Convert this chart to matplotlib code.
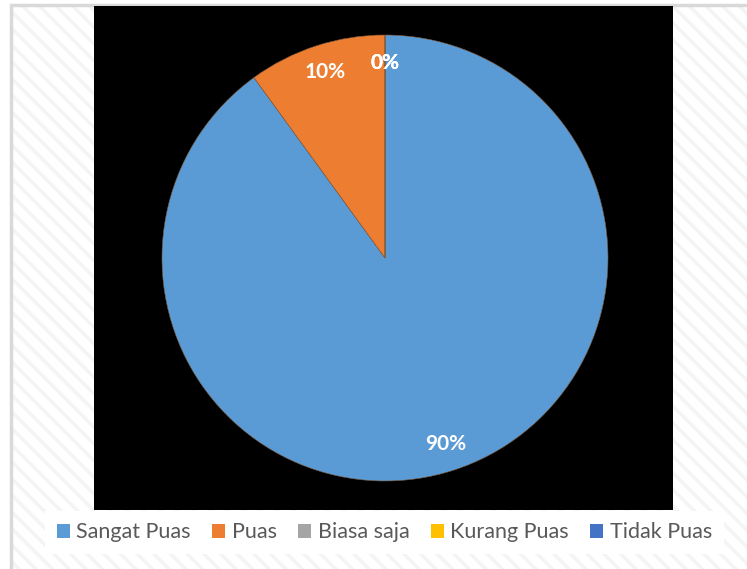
import matplotlib.pyplot as plt
from matplotlib.patches import Rectangle

# data
categories = ["Sangat Puas", "Puas", "Biasa saja", "Kurang Puas", "Tidak Puas"]
shares = [90, 10, 0, 0, 0]
colors = ["#5B9BD5", "#ED7D31", "#A5A5A5", "#FFC000", "#4472C4"]

plt.rcParams['font.family'] = ['Lato', 'DejaVu Sans']
plt.rcParams['hatch.linewidth'] = 2.5

W, H = 747, 569
fig = plt.figure(figsize=(W / 100, H / 100), dpi=100)
fig.patch.set_facecolor('white')

# hatched chart area with light border
bg = Rectangle((11 / W, 0), 1, 1 - 5 / H, transform=fig.transFigure,
               facecolor='white', edgecolor='#f4f4f4', hatch='\\\\', lw=0, zorder=-2)
fig.patches.append(bg)
border = Rectangle((11 / W, -0.1), 1, 1.1 - 5 / H, transform=fig.transFigure,
                   facecolor='none', edgecolor='#d9d9d9', lw=2.5, zorder=-1)
fig.patches.append(border)

# black plot area
left, right, top, bottom = 94, 673, 6, 510
ax = fig.add_axes([left / W, 1 - bottom / H, (right - left) / W, (bottom - top) / H])
ax.set_zorder(1)
ax.set_facecolor('black')

wedges, texts, autotexts = ax.pie(
    shares, colors=colors, startangle=90, counterclock=False,
    autopct='%1.0f%%', pctdistance=0.875, radius=1,
    wedgeprops=dict(edgecolor='#7f5a3a', linewidth=0.4),
    textprops=dict(color='white', fontsize=15, fontweight='bold'),
    frame=True)

r_px = 223
cx = 385 - (left + right) / 2
cy = 258 - (top + bottom) / 2
ax.set_aspect('auto')
hw = (right - left) / 2 / r_px
hh = (bottom - top) / 2 / r_px
ax.set_xlim(-hw - cx / r_px, hw - cx / r_px)
ax.set_ylim(-hh + cy / r_px, hh + cy / r_px)
ax.set_xticks([])
ax.set_yticks([])
for s in ax.spines.values():
    s.set_visible(False)

leg = fig.legend(wedges, categories, loc='center', ncol=5,
                 bbox_to_anchor=(384.5 / W, 1 - 532.5 / H),
                 frameon=True, fancybox=False, facecolor='white', edgecolor='none',
                 framealpha=1, fontsize=15.5, labelcolor='#595959',
                 handlelength=0.6, handleheight=0.6, handletextpad=0.3,
                 columnspacing=1.0, borderpad=0.55, borderaxespad=0)
leg.set_zorder(2)
for h in leg.legend_handles:
    h.set_edgecolor('none')

fig.savefig('out.png', dpi=100)
